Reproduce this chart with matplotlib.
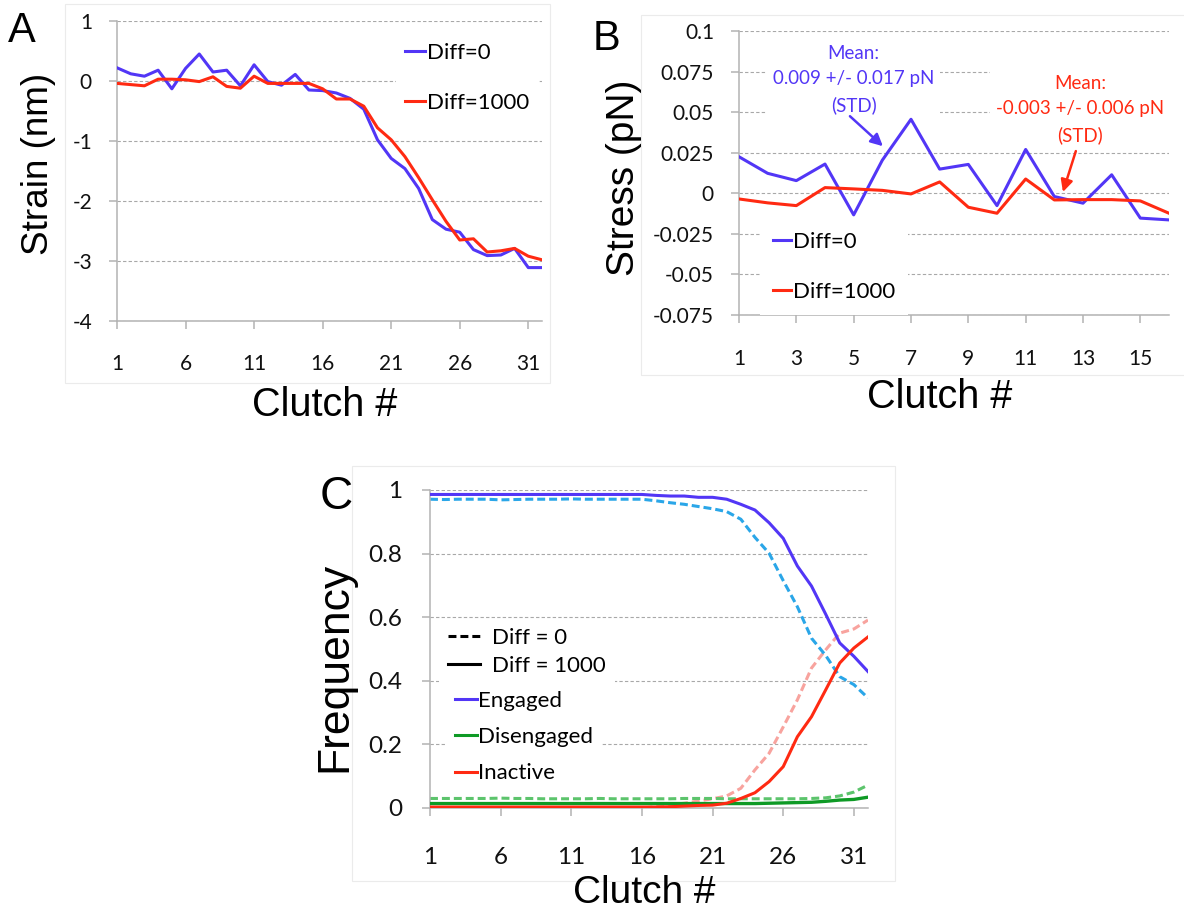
import matplotlib
matplotlib.use("Agg")
import matplotlib.pyplot as plt
from matplotlib.patches import Rectangle
from matplotlib.lines import Line2D

plt.rcParams['font.family'] = ['Lato', 'DejaVu Sans']
plt.rcParams['axes.unicode_minus'] = False

# ---------------- data ----------------
clutch_a = list(range(1, 33))
strain_diff0 = [0.22, 0.12, 0.08, 0.18, -0.13, 0.21, 0.45, 0.15, 0.18, -0.08, 0.27, -0.01,
                -0.07, 0.11, -0.15, -0.16, -0.20, -0.29, -0.47, -0.98, -1.29, -1.46, -1.79,
                -2.31, -2.47, -2.52, -2.81, -2.91, -2.90, -2.79, -3.11, -3.11]
strain_diff1000 = [-0.04, -0.06, -0.08, 0.03, 0.03, 0.02, -0.01, 0.07, -0.09, -0.12, 0.08,
                   -0.04, -0.04, -0.04, -0.04, -0.13, -0.30, -0.30, -0.42, -0.78, -0.98, -1.26,
                   -1.61, -1.98, -2.34, -2.65, -2.63, -2.85, -2.83, -2.79, -2.92, -2.98]

clutch_b = list(range(1, 17))
stress_diff0 = [0.0225, 0.0123, 0.0078, 0.0180, -0.0133, 0.0204, 0.0456, 0.0149, 0.0178,
                -0.0076, 0.0270, -0.0020, -0.0061, 0.0114, -0.0153, -0.0164]
stress_diff1000 = [-0.0035, -0.0059, -0.0076, 0.0035, 0.0027, 0.0018, -0.0004, 0.0070,
                   -0.0086, -0.0123, 0.0088, -0.0041, -0.0039, -0.0039, -0.0047, -0.0123]

clutch_c = list(range(1, 33))
engaged_1000 = [0.986] * 16 + [0.983, 0.981, 0.981, 0.977, 0.977, 0.971, 0.955, 0.937, 0.897,
                               0.848, 0.761, 0.698, 0.610, 0.519, 0.477, 0.429]
engaged_0 = [0.971, 0.970, 0.971, 0.971, 0.971, 0.969, 0.970, 0.971, 0.971, 0.971, 0.972,
             0.971, 0.971, 0.971, 0.971, 0.971, 0.966, 0.960, 0.955, 0.948, 0.941, 0.932,
             0.908, 0.851, 0.801, 0.715, 0.633, 0.534, 0.480, 0.413, 0.388, 0.346]
inactive_1000 = [0.003] * 17 + [0.004, 0.006, 0.008, 0.009, 0.015, 0.030, 0.048, 0.083,
                                0.130, 0.224, 0.287, 0.371, 0.456, 0.503, 0.538]
inactive_0 = [0.0] * 16 + [0.004, 0.010, 0.015, 0.022, 0.029, 0.038, 0.062, 0.120, 0.172,
                           0.255, 0.340, 0.440, 0.497, 0.550, 0.563, 0.591]
diseng_1000 = [0.014] * 24 + [0.015, 0.016, 0.017, 0.018, 0.021, 0.025, 0.027, 0.034]
diseng_0 = [0.030, 0.030, 0.030, 0.030, 0.030, 0.031, 0.030, 0.030, 0.029, 0.029, 0.029,
            0.029, 0.030, 0.029, 0.029, 0.029, 0.029, 0.029, 0.030, 0.030, 0.030, 0.029,
            0.029, 0.029, 0.029, 0.029, 0.029, 0.030, 0.032, 0.038, 0.050, 0.072]

xticks_a = [1, 6, 11, 16, 21, 26, 31]
yticks_a = [-4, -3, -2, -1, 0, 1]
xticks_b = [1, 3, 5, 7, 9, 11, 13, 15]
yticks_b = [-0.075, -0.05, -0.025, 0, 0.025, 0.05, 0.075, 0.1]
yticklabels_b = ['-0.075', '-0.05', '-0.025', '0', '0.025', '0.05', '0.075', '0.1']
xticks_c = [1, 6, 11, 16, 21, 26, 31]
yticks_c = [0, 0.2, 0.4, 0.6, 0.8, 1]
yticklabels_c = ['0', '0.2', '0.4', '0.6', '0.8', '1']

# ---------------- style ----------------
BLUE = '#5236F6'
RED = '#FF2A12'
LBLUE = '#2AA6E8'
PINK = '#F8A39E'
GREEN = '#0E9A25'
LGREEN = '#5CC46C'
AXC = '#b3b3b3'
GRIDC = '#a8a8a8'

W, H = 1184, 911
fig = plt.figure(figsize=(W / 100, H / 100), dpi=100)


def px_axes(l, t, r, b):
    return fig.add_axes([l / W, 1 - b / H, (r - l) / W, (b - t) / H])


def fx(x):
    return x / W


def fy(y):
    return 1 - y / H


def style_axes(ax, tsize, xpad, ypad):
    for s in ['top', 'right']:
        ax.spines[s].set_visible(False)
    for s in ['left', 'bottom']:
        ax.spines[s].set_color(AXC)
        ax.spines[s].set_linewidth(1.1)
    ax.tick_params(axis='both', direction='out', length=6, width=1.1, color=AXC,
                   labelsize=tsize, labelcolor='#111111')
    ax.tick_params(axis='x', pad=xpad)
    ax.tick_params(axis='y', pad=ypad)
    ax.yaxis.grid(True, color=GRIDC, linestyle=(0, (3, 2)), linewidth=0.8)
    ax.set_axisbelow(True)


# frames (chart areas)
for (l, t, r, b) in [(65, 4, 550, 383), (641, 15, 1190, 375), (352, 466, 895, 881)]:
    fig.add_artist(Rectangle((fx(l), fy(b)), (r - l) / W, (b - t) / H,
                             transform=fig.transFigure, fill=False,
                             edgecolor='#ebebeb', linewidth=0.8))

# ---------------- Panel A ----------------
axA = px_axes(117, 21, 542, 321)
axA.plot(clutch_a, strain_diff0, color=BLUE, lw=2.2, label='Diff=0', zorder=3)
axA.plot(clutch_a, strain_diff1000, color=RED, lw=2.2, label='Diff=1000', zorder=3)
axA.set_xlim(1, 32)
axA.set_ylim(-4, 1)
axA.set_xticks(xticks_a)
axA.set_yticks(yticks_a)
style_axes(axA, 15, 17.5, 12)
axA.legend(loc='center left', bbox_to_anchor=(fx(396), fy(78)), bbox_transform=fig.transFigure,
           borderaxespad=0, frameon=True, facecolor='white', edgecolor='none', framealpha=1,
           fancybox=False, fontsize=16, handlelength=0.9, handletextpad=0.08,
           labelspacing=1.33, borderpad=0.4)

# ---------------- Panel B ----------------
axB = px_axes(739, 31, 1169, 315)
axB.plot(clutch_b, stress_diff0, color=BLUE, lw=2.2, label='Diff=0', zorder=3)
axB.plot(clutch_b, stress_diff1000, color=RED, lw=2.2, label='Diff=1000', zorder=3)
axB.set_xlim(1, 16)
axB.set_ylim(-0.075, 0.1)
axB.set_xticks(xticks_b)
axB.set_yticks(yticks_b)
axB.set_yticklabels(yticklabels_b)
style_axes(axB, 15, 18.5, 12)
axB.legend(loc='center left', bbox_to_anchor=(fx(760), fy(267)), bbox_transform=fig.transFigure,
           borderaxespad=0, frameon=True, facecolor='white', edgecolor='none', framealpha=1,
           fancybox=False, fontsize=16, handlelength=0.8, handletextpad=0.08,
           labelspacing=1.36, borderpad=0.6)

axB.text(5.0, 0.0702, 'Mean:\n0.009 +/- 0.017 pN\n(STD)', color=BLUE, fontsize=13.5,
         ha='center', va='center', linespacing=1.6, zorder=1.5,
         bbox=dict(facecolor='white', edgecolor='none', pad=4))
axB.text(12.89, 0.0518, 'Mean:\n-0.003 +/- 0.006 pN\n(STD)', color=RED, fontsize=13.5,
         ha='center', va='center', linespacing=1.6, zorder=1.5,
         bbox=dict(facecolor='white', edgecolor='none', pad=4))
axB.annotate('', xy=(6.02, 0.029), xytext=(4.87, 0.0475),
             arrowprops=dict(arrowstyle='-|>', color=BLUE, lw=1.8, mutation_scale=18,
                             shrinkA=0, shrinkB=0), zorder=4)
axB.annotate('', xy=(12.3, 0.0008), xytext=(12.75, 0.026),
             arrowprops=dict(arrowstyle='-|>', color=RED, lw=1.8, mutation_scale=18,
                             shrinkA=0, shrinkB=0), zorder=4)

# ---------------- Panel C ----------------
axC = px_axes(430, 490, 868, 808)
dash = (0, (2.6, 1.3))
axC.plot(clutch_c, inactive_0, color=PINK, lw=2.2, linestyle=dash, zorder=2)
axC.plot(clutch_c, diseng_0, color=LGREEN, lw=2.2, linestyle=dash, zorder=2)
axC.plot(clutch_c, engaged_0, color=LBLUE, lw=2.2, linestyle=dash, zorder=2)
axC.plot(clutch_c, engaged_1000, color=BLUE, lw=2.2, zorder=3)
axC.plot(clutch_c, diseng_1000, color=GREEN, lw=2.4, zorder=3)
axC.plot(clutch_c, inactive_1000, color=RED, lw=2.2, zorder=3)
axC.set_xlim(1, 32)
axC.set_ylim(0, 1)
axC.set_xticks(xticks_c)
axC.set_yticks(yticks_c)
axC.set_yticklabels(yticklabels_c)
style_axes(axC, 17.5, 22, 14)

leg_style = [Line2D([], [], color='black', lw=2.2, linestyle=(0, (2.6, 1.3))),
             Line2D([], [], color='black', lw=2.2)]
leg1 = axC.legend(leg_style, ['Diff = 0', 'Diff = 1000'], loc='center left',
                  bbox_to_anchor=(fx(439), fy(652)), bbox_transform=fig.transFigure,
                  borderaxespad=0, frameon=True, facecolor='white', edgecolor='none',
                  framealpha=1, fancybox=False, fontsize=16, handlelength=1.46,
                  handletextpad=0.54, labelspacing=0.38, borderpad=0.4)
axC.add_artist(leg1)
leg_cat = [Line2D([], [], color=BLUE, lw=2.2), Line2D([], [], color=GREEN, lw=2.2),
           Line2D([], [], color=RED, lw=2.2)]
axC.legend(leg_cat, ['Engaged', 'Disengaged', 'Inactive'], loc='center left',
           bbox_to_anchor=(fx(446), fy(737)), bbox_transform=fig.transFigure,
           borderaxespad=0, frameon=True, facecolor='white', edgecolor='none',
           framealpha=1, fancybox=False, fontsize=16, handlelength=1.0,
           handletextpad=0.05, labelspacing=0.74, borderpad=0.4)

# ---------------- titles / letters ----------------
LBL = 'Liberation Sans'
fig.text(fx(8), fy(42), 'A', family=LBL, fontsize=30, va='baseline', ha='left')
fig.text(fx(593), fy(50), 'B', family=LBL, fontsize=30, va='baseline', ha='left')
fig.text(fx(320), fy(509), 'C', family=LBL, fontsize=33, va='baseline', ha='left')

fig.text(fx(39), fy(163.5), 'Strain (nm)', family=LBL, fontsize=26.6, rotation=90,
         ha='center', va='center')
fig.text(fx(624), fy(177.5), 'Stress (pN)', family=LBL, fontsize=28, rotation=90,
         ha='center', va='center')
fig.text(fx(335), fy(667), 'Frequency', family=LBL, fontsize=32, rotation=90,
         ha='center', va='center')

fig.text(fx(324.5), fy(416), 'Clutch #', family=LBL, fontsize=28.5, ha='center', va='baseline')
fig.text(fx(940), fy(408), 'Clutch #', family=LBL, fontsize=28.5, ha='center', va='baseline')
fig.text(fx(644), fy(903), 'Clutch #', family=LBL, fontsize=28, ha='center', va='baseline')

fig.savefig('out.png', dpi=100, facecolor='white')
